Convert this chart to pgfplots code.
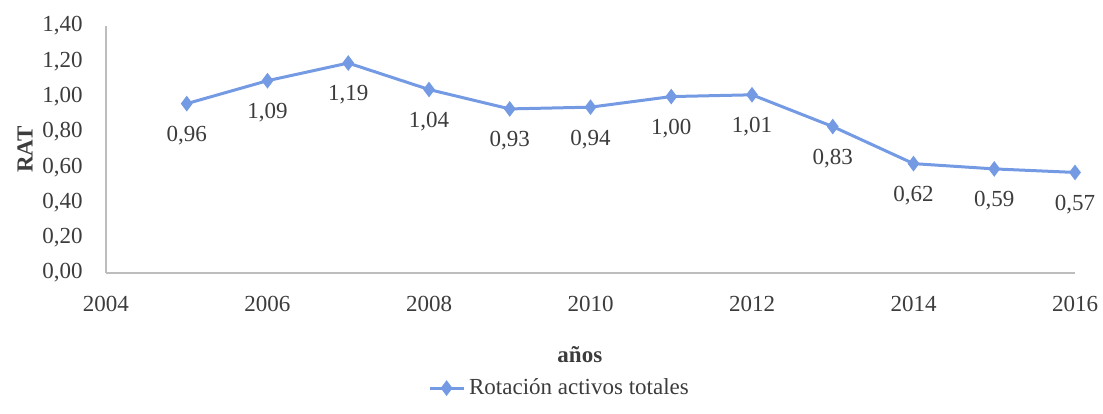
\documentclass[border=0pt]{standalone}
\usepackage{pgfplots}
\pgfplotsset{compat=1.18}
\usepackage{fontspec}
\setmainfont{Liberation Serif}
\definecolor{serie}{HTML}{739AE2}
\definecolor{txt}{HTML}{3C3C3C}
\definecolor{axisgray}{HTML}{BDBDBD}
\begin{document}
\begin{tikzpicture}
\begin{axis}[
  scale only axis,
  width=484.5bp, height=123.5bp,
  xmin=2004, xmax=2016, ymin=0, ymax=1.4,
  xtick={2004,2006,...,2016},
  ytick={0,0.2,...,1.41},
  axis x line*=bottom, axis y line*=left,
  axis line style={draw=axisgray, line width=0.8bp, -},
  major tick length=0pt,
  font=\fontsize{11.5bp}{13.5bp}\selectfont,
  /pgf/number format/assume math mode=true,
  tick label style={text=txt},
  xticklabel style={anchor=center, inner sep=0pt, yshift=-15.25bp,
    /pgf/number format/.cd, set thousands separator={}, fixed},
  yticklabel style={anchor=east, inner sep=0pt, xshift=-11.5bp,
    /pgf/number format/.cd, use comma, fixed, fixed zerofill, precision=2},
  xlabel={\textbf{años}},
  ylabel={\textbf{RAT}},
  x label style={at={(axis description cs:0.489,-0.332)}, anchor=center, text=txt},
  y label style={at={(axis description cs:-0.0836,0.5)}, anchor=center, text=txt},
  legend style={at={(axis description cs:0.469,-0.466)}, anchor=center,
    draw=none, fill=none, text=txt, font=\fontsize{11.5bp}{13.5bp}\selectfont,
    inner sep=0pt},
  legend cell align=left,
]
\addplot[color=serie, line width=1.5bp, mark=diamond*, mark size=2.7bp,
  mark options={fill=serie, draw=serie},
  nodes near coords,
  every node near coord/.append style={anchor=center, yshift=-16bp, text=txt,
    font=\fontsize{11.5bp}{13.5bp}\selectfont,
    /pgf/number format/.cd, use comma, fixed, fixed zerofill, precision=2}]
  coordinates {
  (2005,0.96) (2006,1.09) (2007,1.19) (2008,1.04) (2009,0.93) (2010,0.94)
  (2011,1.00) (2012,1.01) (2013,0.83) (2014,0.62) (2015,0.59) (2016,0.57)
  };
\addlegendentry{Rotación activos totales}
\end{axis}
\pgfresetboundingbox
\path (-53bp,-70.5bp) rectangle (498.5bp,136.5bp);
\end{tikzpicture}
\end{document}
